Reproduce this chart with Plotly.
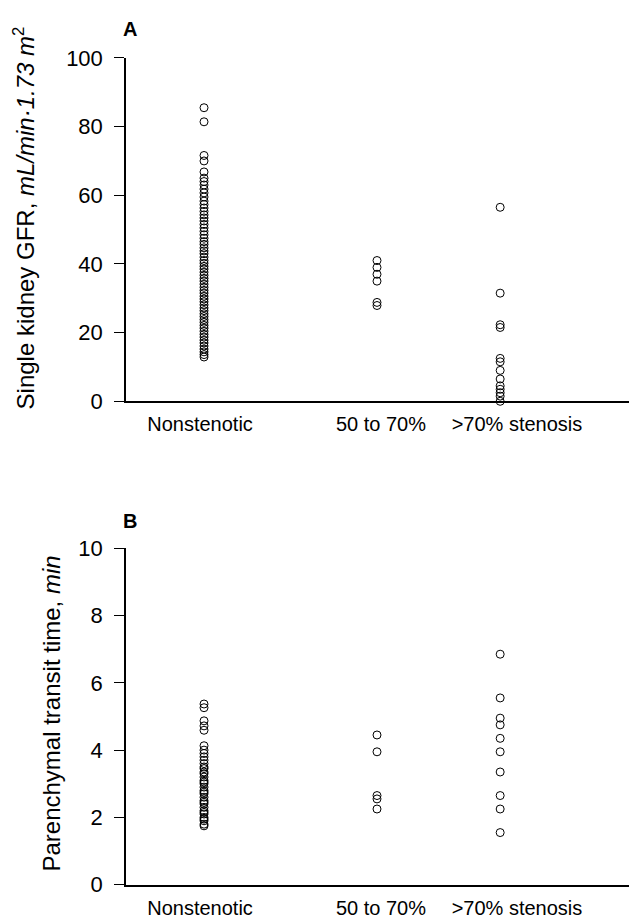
import plotly.graph_objects as go

categories = ["Nonstenotic", "50 to 70%", ">70% stenosis"]

# Panel A: single kidney GFR (mL/min·1.73 m²)
gfr_nonstenotic = [85.5, 81.4, 71.6, 70.0, 66.8, 65.0, 64.0, 63.0, 61.8, 60.7, 59.5, 58.3,
                   57.3, 56.3, 55.3, 54.3, 53.4, 52.5, 51.5, 50.5, 49.5, 48.5, 47.5, 46.5,
                   45.7, 44.7, 43.8, 43.0, 42.0, 41.0, 40.2, 39.3, 38.5, 37.6, 36.7, 35.8,
                   35.0, 34.1, 33.2, 32.3, 31.5, 30.6, 29.8, 29.0, 28.1, 27.2, 26.4, 25.5,
                   24.7, 23.8, 23.0, 22.1, 21.3, 20.4, 19.5, 18.7, 17.8, 17.0, 16.1, 15.2,
                   14.4, 13.6, 12.9]
gfr_50to70 = [41.0, 39.0, 37.0, 35.0, 28.8, 27.9]
gfr_over70 = [56.5, 31.5, 22.3, 21.5, 12.5, 11.5, 9.0, 6.5, 4.5, 3.5, 2.5, 1.5, 0.0]

# Panel B: parenchymal transit time (min)
ptt_nonstenotic = [5.37, 5.26, 4.87, 4.72, 4.59, 4.13, 4.0, 3.9, 3.8, 3.7, 3.6, 3.5, 3.45,
                   3.35, 3.3, 3.2, 3.1, 3.05, 3.0, 2.9, 2.8, 2.75, 2.7, 2.6, 2.5, 2.45, 2.4,
                   2.3, 2.2, 2.15, 2.1, 2.0, 1.95, 1.9, 1.8, 1.75]
ptt_50to70 = [4.45, 3.95, 2.65, 2.55, 2.25]
ptt_over70 = [6.85, 5.55, 4.95, 4.75, 4.35, 3.95, 3.35, 2.65, 2.25, 1.55]

yticks_a = [0, 20, 40, 60, 80, 100]
yticks_b = [0, 2, 4, 6, 8, 10]

# ---- layout constants (screen px; page body has an 8px margin) ----
OFF = 8
W, H = 637 - OFF, 924 - OFF
point_pos = [1.0, 2.0, 2.712]
label_pos = [0.977, 2.023, 2.809]
FONT = "Liberation Sans, Arial, Helvetica, sans-serif"


def py(p):
    return 1 - (p - OFF) / H


def px(p):
    return (p - OFF) / W


fig = go.Figure()
marker = dict(symbol="circle-open", size=8, color="black", line=dict(width=1))

for i, vals in enumerate([gfr_nonstenotic, gfr_50to70, gfr_over70]):
    fig.add_trace(go.Scatter(x=[point_pos[i]] * len(vals), y=vals, mode="markers",
                             marker=marker, xaxis="x", yaxis="y", showlegend=False,
                             cliponaxis=False, hoverinfo="y"))
for i, vals in enumerate([ptt_nonstenotic, ptt_50to70, ptt_over70]):
    fig.add_trace(go.Scatter(x=[point_pos[i]] * len(vals), y=vals, mode="markers",
                             marker=marker, xaxis="x2", yaxis="y2", showlegend=False,
                             cliponaxis=False, hoverinfo="y"))

xdom = [px(126), 1.0]
xr = [0.549, 3.503]

common_x = dict(range=xr, domain=xdom, showline=True, linecolor="black", linewidth=2,
                showgrid=False, zeroline=False, ticks="", tickmode="array",
                tickvals=label_pos, ticktext=categories, ticklabelstandoff=4,
                tickfont=dict(size=20, color="black", family=FONT))
common_y = dict(showline=True, linecolor="black", linewidth=1.5, showgrid=False,
                zeroline=False, ticks="outside", ticklen=10, tickwidth=1, tickcolor="black",
                tickfont=dict(size=22, color="black", family=FONT), ticklabelstandoff=7)

fig.update_layout(
    width=W, height=H,
    margin=dict(l=0, r=0, t=0, b=0),
    paper_bgcolor="white", plot_bgcolor="white",
    font=dict(family=FONT, color="black"),
    xaxis=dict(**common_x, anchor="y"),
    xaxis2=dict(**common_x, anchor="y2"),
    yaxis=dict(**common_y, domain=[py(400), py(47)], range=[0, 100], anchor="x",
               tickvals=yticks_a),
    yaxis2=dict(**common_y, domain=[py(897), py(551)], range=[0, 10], anchor="x2",
                tickvals=yticks_b),
    annotations=[
        dict(text="Single kidney GFR, <i>mL/min·1.73 m</i><sup>2</sup>",
             x=px(24), y=py(212), xref="paper", yref="paper", textangle=-90,
             xanchor="center", yanchor="middle", showarrow=False,
             font=dict(size=24, family=FONT, color="black")),
        dict(text="Parenchymal transit time, <i>min</i>",
             x=px(52), y=py(721), xref="paper", yref="paper", textangle=-90,
             xanchor="center", yanchor="middle", showarrow=False,
             font=dict(size=24, family=FONT, color="black")),
        dict(text="<b>A</b>", x=px(121), y=py(17), xref="paper", yref="paper",
             xanchor="left", yanchor="middle", showarrow=False,
             font=dict(size=20, family=FONT, color="black")),
        dict(text="<b>B</b>", x=px(121), y=py(523), xref="paper", yref="paper",
             xanchor="left", yanchor="middle", showarrow=False,
             font=dict(size=20, family=FONT, color="black")),
    ],
)

fig.write_html("out.html")
